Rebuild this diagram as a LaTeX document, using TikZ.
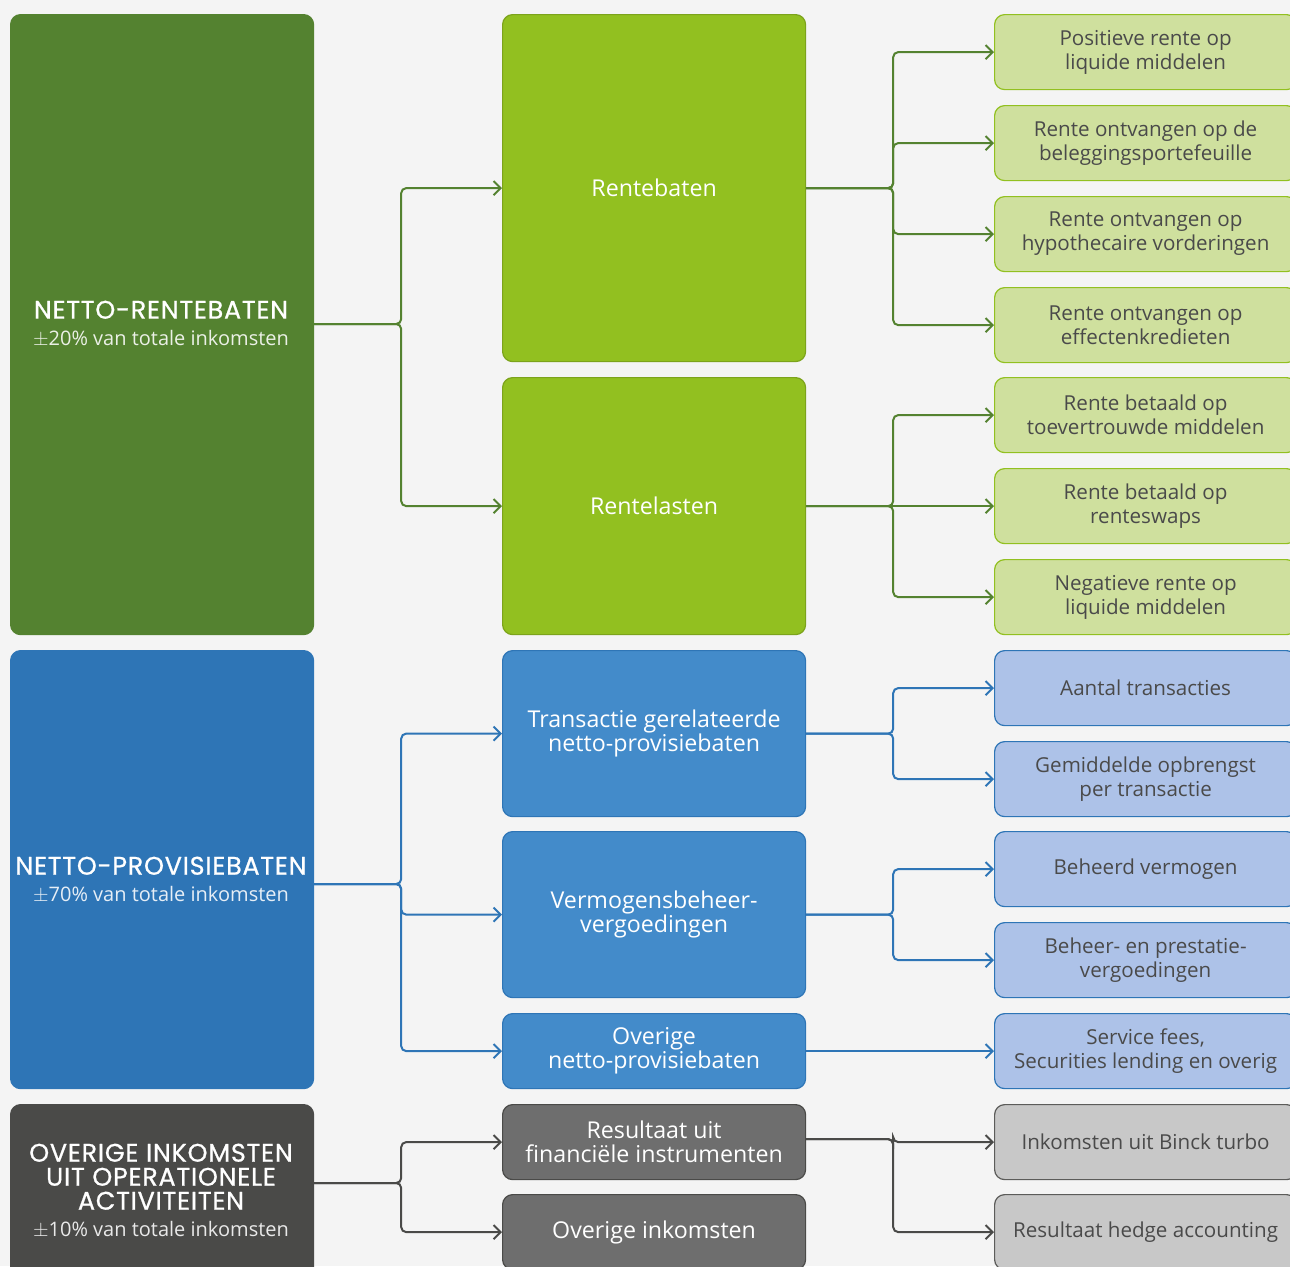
\documentclass[tikz,border=0pt]{standalone}
\usepackage{fontspec}
\setmainfont{Open Sans}
\newfontfamily\headfont[LetterSpace=3, FakeBold=0.8]{Poppins}
\usetikzlibrary{arrows.meta}

\definecolor{bgcol}{HTML}{F4F4F4}
\definecolor{grnA}{HTML}{548230}
\definecolor{grnB}{HTML}{92C020}
\definecolor{grnC}{HTML}{CFE09E}
\definecolor{bluA}{HTML}{2E75B6}
\definecolor{bluB}{HTML}{438BCA}
\definecolor{bluC}{HTML}{ADC2E8}
\definecolor{gryA}{HTML}{4A4A48}
\definecolor{gryB}{HTML}{6E6E6E}
\definecolor{gryC}{HTML}{C8C8C8}
\definecolor{txtdark}{HTML}{4A4A4A}

\newcommand\subfont{\normalfont\fontsize{10}{12}\selectfont}

\tikzset{
  box/.style={rounded corners=5pt, anchor=north west, inner sep=0pt,
    line width=0.6pt, align=center, minimum width=151.5pt},
  mainbox/.style={box},
  midbox/.style={box, text=white, font=\fontsize{11.6}{12}\selectfont},
  leafbox/.style={box, minimum width=151pt, minimum height=37.5pt,
    text=txtdark, font=\fontsize{10.3}{12}\selectfont},
  headtext/.style={align=center, text=white, inner sep=0pt,
    font=\headfont\fontsize{12.7}{12}\selectfont},
  link/.style={line width=1pt, rounded corners=2.5pt,
    -{Straight Barb[length=3.5pt,width=7pt]}}
}

\begin{document}
\begin{tikzpicture}[x=0.5pt,y=-0.5pt]
    % Canvas
    \useasboundingbox (0,0) rectangle (1290,1266);
    \clip (0,0) rectangle (1290,1266);
    \fill[bgcol] (0,0) rectangle (1290,1266);

    % Left column
    \node[mainbox, fill=grnA, draw=grnA, minimum height=310pt] (nr) at (10,14) {};
    \node[mainbox, fill=bluA, draw=bluA, minimum height=219pt] (np) at (10,650) {};
    \node[mainbox, fill=gryA, draw=gryA, minimum height=88pt] (no) at (10,1104) {};

    \node[headtext] (nrt) at (161,324) {NETTO-RENTEBATEN\\[1.5pt]
      {\subfont\color{white!88!grnA}$\pm$20\% van totale inkomsten}};
    \node[headtext] (npt) at (161,880) {NETTO-PROVISIEBATEN\\[1.5pt]
      {\subfont\color{white!88!bluA}$\pm$70\% van totale inkomsten}};
    \node[headtext] (not) at (161,1191) {OVERIGE INKOMSTEN\\UIT OPERATIONELE\\ACTIVITEITEN\\[1.5pt]
      {\subfont\color{white!88!gryA}$\pm$10\% van totale inkomsten}};

    % Middle column
    \node[midbox, fill=grnB, draw=grnB!85!black, minimum height=173.5pt] (rb) at (502,14) {Rentebaten};
    \node[midbox, fill=grnB, draw=grnB!85!black, minimum height=128.5pt] (rl) at (502,377) {Rentelasten};
    \node[midbox, fill=bluB, draw=bluA, minimum height=83pt] (tp) at (502,650) {Transactie gerelateerde\\netto-provisiebaten};
    \node[midbox, fill=bluB, draw=bluA, minimum height=83pt] (vb) at (502,831) {Vermogensbeheer-\\vergoedingen};
    \node[midbox, fill=bluB, draw=bluA, minimum height=37.5pt] (onp) at (502,1013) {Overige\\netto-provisiebaten};
    \node[midbox, fill=gryB, draw=gryA, minimum height=37.5pt] (rf) at (502,1104) {Resultaat uit\\financiële instrumenten};
    \node[midbox, fill=gryB, draw=gryA, minimum height=37.5pt] (oi) at (502,1194) {Overige inkomsten};

    % Right column
    \node[leafbox, fill=grnC, draw=grnB] (l1) at (994,14) {Positieve rente op\\liquide middelen};
    \node[leafbox, fill=grnC, draw=grnB] (l2) at (994,105) {Rente ontvangen op de\\beleggingsportefeuille};
    \node[leafbox, fill=grnC, draw=grnB] (l3) at (994,196) {Rente ontvangen op\\hypothecaire vorderingen};
    \node[leafbox, fill=grnC, draw=grnB] (l4) at (994,287) {Rente ontvangen op\\effectenkredieten};
    \node[leafbox, fill=grnC, draw=grnB] (l5) at (994,377) {Rente betaald op\\toevertrouwde middelen};
    \node[leafbox, fill=grnC, draw=grnB] (l6) at (994,468) {Rente betaald op\\renteswaps};
    \node[leafbox, fill=grnC, draw=grnB] (l7) at (994,559) {Negatieve rente op\\liquide middelen};
    \node[leafbox, fill=bluC, draw=bluA] (l8) at (994,650) {Aantal transacties};
    \node[leafbox, fill=bluC, draw=bluA] (l9) at (994,741) {Gemiddelde opbrengst\\per transactie};
    \node[leafbox, fill=bluC, draw=bluA] (l10) at (994,831) {Beheerd vermogen};
    \node[leafbox, fill=bluC, draw=bluA] (l11) at (994,922) {Beheer- en prestatie-\\vergoedingen};
    \node[leafbox, fill=bluC, draw=bluA] (l12) at (994,1013) {Service fees,\\Securities lending en overig};
    \node[leafbox, fill=gryC, draw=gryA!90] (l13) at (994,1104) {Inkomsten uit Binck turbo};
    \node[leafbox, fill=gryC, draw=gryA!90] (l14) at (994,1194) {Resultaat hedge accounting};

    % Left to middle
    \draw[link, grnA] (nr.east |- nrt) -- ++(87,0) |- (rb.west);
    \draw[link, grnA] (nr.east |- nrt) -- ++(87,0) |- (rl.west);
    \draw[link, bluA] ([yshift=-2pt]np.east |- npt) -- ++(87,0) |- (tp.west);
    \draw[link, bluA] ([yshift=-2pt]np.east |- npt) -- ++(87,0) |- (vb.west);
    \draw[link, bluA] ([yshift=-2pt]np.east |- npt) -- ++(87,0) |- (onp.west);
    \draw[link, gryA] ([yshift=4pt]no.east |- not) -- ++(87,0) |- (rf.west);
    \draw[link, gryA] ([yshift=4pt]no.east |- not) -- ++(87,0) |- (oi.west);

    % Middle to right
    \draw[link, grnA] (rb.east) -- ++(87,0) |- (l1.west);
    \draw[link, grnA] (rb.east) -- ++(87,0) |- (l2.west);
    \draw[link, grnA] (rb.east) -- ++(87,0) |- (l3.west);
    \draw[link, grnA] (rb.east) -- ++(87,0) |- (l4.west);
    \draw[link, grnA] (rl.east) -- ++(87,0) |- (l5.west);
    \draw[link, grnA] (rl.east) -- (l6.west);
    \draw[link, grnA] (rl.east) -- ++(87,0) |- (l7.west);
    \draw[link, bluA] (tp.east) -- ++(87,0) |- (l8.west);
    \draw[link, bluA] (tp.east) -- ++(87,0) |- (l9.west);
    \draw[link, bluA] (vb.east) -- ++(87,0) |- (l10.west);
    \draw[link, bluA] (vb.east) -- ++(87,0) |- (l11.west);
    \draw[link, bluA] (onp.east) -- (l12.west);
    \draw[link, gryA] ([yshift=1.5pt]rf.east) -- ++(87,0) |- (l13.west);
    \draw[link, gryA] ([yshift=1.5pt]rf.east) -- ++(87,0) |- (l14.west);
\end{tikzpicture}
\end{document}
